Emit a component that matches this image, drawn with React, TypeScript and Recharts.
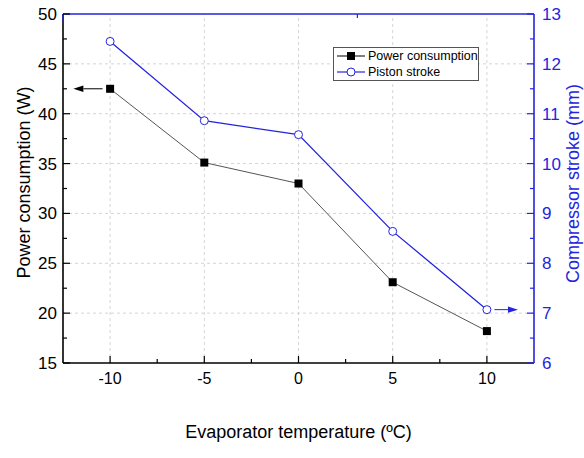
import React from 'react';
import { ComposedChart, Line, XAxis, YAxis, ReferenceLine, Legend } from 'recharts';

const temps = [-10, -5, 0, 5, 10];
const power = [42.5, 35.1, 33.0, 23.1, 18.2];
const stroke = [12.45, 10.86, 10.58, 8.64, 7.07];

const xTicks = [-10, -7.5, -5, -2.5, 0, 2.5, 5, 7.5, 10];
const xMajor = [-10, -5, 0, 5, 10];
const leftTicks = [15, 17.5, 20, 22.5, 25, 27.5, 30, 32.5, 35, 37.5, 40, 42.5, 45, 47.5, 50];
const leftGrid = [20, 25, 30, 35, 40, 45];
const rightTicks = [6, 6.5, 7, 7.5, 8, 8.5, 9, 9.5, 10, 10.5, 11, 11.5, 12, 12.5, 13];

const BLUE = '#2424e0';
const FONT = '"Liberation Sans", Arial, sans-serif';

const data = temps.map((t, i) => ({ t, power: power[i], stroke: stroke[i] }));

const isMajor = (v: number, step: number) => Math.abs(v / step - Math.round(v / step)) < 1e-6;

const BottomTick = (p: any) => {
  const v = p.payload.value;
  const maj = isMajor(v, 5);
  return (
    <g>
      <line x1={p.x} x2={p.x} y1={p.y} y2={p.y - (maj ? 7 : 4)} stroke="#000" strokeWidth={1.2} />
      {maj && (
        <text x={p.x} y={p.y + 21} textAnchor="middle" fontSize={16} fontFamily={FONT} fill="#000">
          {v}
        </text>
      )}
    </g>
  );
};

const TopTick = (p: any) => {
  const v = p.payload.value;
  const maj = isMajor(v, 5);
  return <line x1={p.x} x2={p.x} y1={p.y} y2={p.y + (maj ? 7 : 4)} stroke={BLUE} strokeWidth={1.2} />;
};

const LeftTick = (p: any) => {
  const v = p.payload.value;
  const maj = isMajor(v, 5);
  const ax = p.x + 6;
  return (
    <g>
      <line x1={ax} x2={ax + (maj ? 7 : 4)} y1={p.y} y2={p.y} stroke="#000" strokeWidth={1.2} />
      {maj && (
        <text x={p.x} y={p.y + 6} textAnchor="end" fontSize={17} fontFamily={FONT} fill="#000">
          {v}
        </text>
      )}
    </g>
  );
};

const RightTick = (p: any) => {
  const v = p.payload.value;
  const maj = isMajor(v, 1);
  const ax = p.x - 8;
  return (
    <g>
      <line x1={ax} x2={ax - (maj ? 7 : 4)} y1={p.y} y2={p.y} stroke={BLUE} strokeWidth={1.2} />
      {maj && (
        <text x={p.x} y={p.y + 6} textAnchor="start" fontSize={17} fontFamily={FONT} fill={BLUE}>
          {v}
        </text>
      )}
    </g>
  );
};

const SquareDot = (p: any) => (
  <rect key={`sq-${p.index}`} x={p.cx - 4} y={p.cy - 4} width={8} height={8} fill="#000" />
);

const Arrow = (color: string) => (p: any) => {
  const { x1, y1, x2, y2 } = p;
  const a = Math.atan2(y2 - y1, x2 - x1);
  const L = 10;
  const W = 3.2;
  const bx = x2 - L * Math.cos(a);
  const by = y2 - L * Math.sin(a);
  const px = -Math.sin(a) * W;
  const py = Math.cos(a) * W;
  return (
    <g>
      <line x1={x1} y1={y1} x2={bx} y2={by} stroke={color} strokeWidth={1} />
      <polygon points={`${x2},${y2} ${bx + px},${by + py} ${bx - px},${by - py}`} fill={color} />
    </g>
  );
};

const LegendBox = () => (
  <div
    style={{
      border: '1px solid #555',
      background: '#fff',
      width: 146,
      height: 34,
      fontFamily: FONT,
      fontSize: 12.5,
      lineHeight: '16px',
      boxSizing: 'border-box',
      paddingTop: 0,
      whiteSpace: 'nowrap',
    }}
  >
    <div style={{ display: 'flex', alignItems: 'center', height: 16 }}>
      <svg width={32} height={16} style={{ marginLeft: 1, flex: 'none' }}>
        <line x1={2} x2={30} y1={8} y2={8} stroke="#000" strokeWidth={1} />
        <rect x={12} y={4} width={8} height={8} fill="#000" />
      </svg>
      <span style={{ marginLeft: 1, color: '#000' }}>Power consumption</span>
    </div>
    <div style={{ display: 'flex', alignItems: 'center', height: 16 }}>
      <svg width={32} height={16} style={{ marginLeft: 1, flex: 'none' }}>
        <line x1={2} x2={30} y1={8} y2={8} stroke={BLUE} strokeWidth={1.2} />
        <circle cx={16} cy={8} r={4} fill="#fff" stroke={BLUE} strokeWidth={1} />
      </svg>
      <span style={{ marginLeft: 1, color: '#000' }}>Piston stroke</span>
    </div>
  </div>
);

const LeftLabel = (p: any) => {
  const vb = p.viewBox;
  const cx = 24;
  const cy = vb.y + vb.height / 2 - 6;
  return (
    <text x={cx} y={cy} transform={`rotate(-90 ${cx} ${cy})`} textAnchor="middle" dominantBaseline="central" fontSize={18} fontFamily={FONT} fill="#000">
      Power consumption (W)
    </text>
  );
};

const RightLabel = (p: any) => {
  const vb = p.viewBox;
  const cx = 573;
  const cy = vb.y + vb.height / 2 - 5;
  return (
    <text x={cx} y={cy} transform={`rotate(-90 ${cx} ${cy})`} textAnchor="middle" dominantBaseline="central" fontSize={18} fontFamily={FONT} fill={BLUE}>
      Compressor stroke (mm)
    </text>
  );
};

const BottomLabel = (p: any) => {
  const vb = p.viewBox;
  const cx = vb.x + vb.width / 2;
  return (
    <text x={cx} y={438} textAnchor="middle" fontSize={18} fontFamily={FONT} fill="#000">
      Evaporator temperature (ºC)
    </text>
  );
};

export default function App() {
  return (
    <div style={{ position: 'absolute', left: 0, top: 0, width: 584, height: 458, background: '#fff' }}>
      <ComposedChart width={584} height={458} data={data} margin={{ top: 0, right: 0, bottom: 0, left: 0 }}>
        <XAxis
          xAxisId="bottom"
          dataKey="t"
          type="number"
          domain={[-12.5, 12.5]}
          ticks={xTicks}
          interval={0}
          height={61}
          tickSize={0}
          tickMargin={0}
          tickLine={false}
          axisLine={{ stroke: '#000', strokeWidth: 1.6 }}
          tick={<BottomTick />}
          label={<BottomLabel />}
        />
        <XAxis
          xAxisId="top"
          orientation="top"
          type="number"
          domain={[-12.5, 12.5]}
          ticks={xTicks}
          interval={0}
          height={14}
          tickSize={0}
          tickMargin={0}
          tickLine={false}
          axisLine={{ stroke: BLUE, strokeWidth: 1.6 }}
          tick={<TopTick />}
        />
        <YAxis
          yAxisId="left"
          type="number"
          domain={[15, 50]}
          ticks={leftTicks}
          interval={0}
          width={63}
          tickSize={0}
          tickMargin={6}
          tickLine={false}
          axisLine={{ stroke: '#000', strokeWidth: 1.6 }}
          tick={<LeftTick />}
          label={<LeftLabel />}
        />
        <YAxis
          yAxisId="right"
          orientation="right"
          type="number"
          domain={[6, 13]}
          ticks={rightTicks}
          interval={0}
          width={50}
          tickSize={0}
          tickMargin={8}
          tickLine={false}
          axisLine={{ stroke: BLUE, strokeWidth: 1.6 }}
          tick={<RightTick />}
          label={<RightLabel />}
        />
        {xMajor.map((v) => (
          <ReferenceLine key={`gx${v}`} xAxisId="bottom" yAxisId="left" x={v} stroke="#d4d4d4" strokeDasharray="3 3" strokeWidth={1} />
        ))}
        {leftGrid.map((v) => (
          <ReferenceLine key={`gy${v}`} xAxisId="bottom" yAxisId="left" y={v} stroke="#d4d4d4" strokeDasharray="3 3" strokeWidth={1} />
        ))}
        <ReferenceLine
          xAxisId="bottom"
          yAxisId="left"
          segment={[{ x: -10.4, y: power[0] }, { x: -11.95, y: power[0] }]}
          shape={Arrow('#000')}
        />
        <ReferenceLine
          xAxisId="bottom"
          yAxisId="right"
          segment={[{ x: 10.4, y: stroke[4] }, { x: 11.65, y: stroke[4] }]}
          shape={Arrow(BLUE)}
        />
        <Line
          xAxisId="bottom"
          yAxisId="left"
          dataKey="power"
          stroke="#555"
          strokeWidth={1}
          dot={SquareDot}
          isAnimationActive={false}
          legendType="square"
        />
        <Line
          xAxisId="bottom"
          yAxisId="right"
          dataKey="stroke"
          stroke={BLUE}
          strokeWidth={1.3}
          dot={{ r: 4, fill: '#fff', stroke: BLUE, strokeWidth: 1 }}
          isAnimationActive={false}
        />
        <Legend content={<LegendBox />} wrapperStyle={{ position: 'absolute', left: 333, top: 47, width: 'auto', bottom: 'auto' }} />
      </ComposedChart>
    </div>
  );
}
